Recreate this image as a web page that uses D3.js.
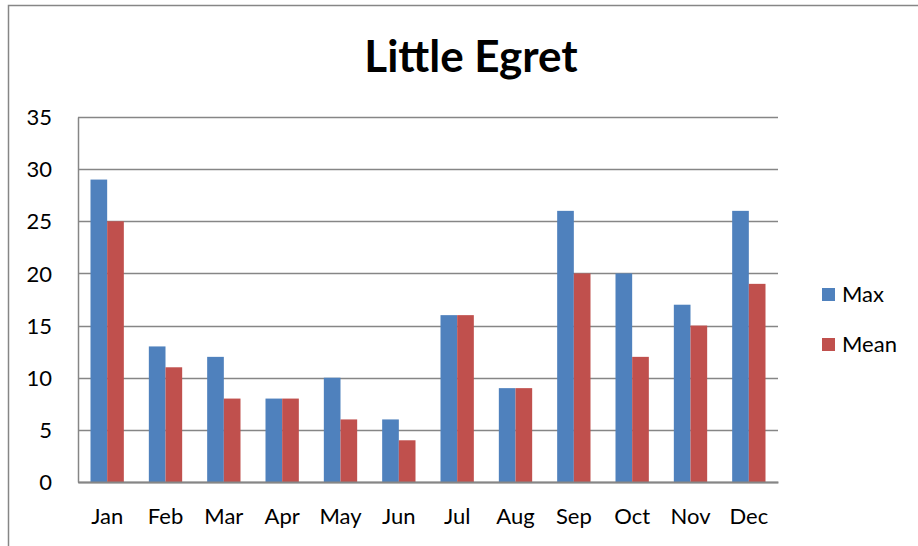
<!DOCTYPE html>
<html>
<head>
<meta charset="utf-8">
<script src="https://cdn.jsdelivr.net/npm/d3@7"></script>
<style>
  body { margin: 0; background: #fff; }
  text { font-family: Lato, "Noto Sans", sans-serif; fill: #000; }
</style>
</head>
<body>
<div id="chart"></div>
<script>
// data
var months = ["Jan", "Feb", "Mar", "Apr", "May", "Jun", "Jul", "Aug", "Sep", "Oct", "Nov", "Dec"];
var maxValues = [29, 13, 12, 8, 10, 6, 16, 9, 26, 20, 17, 26];
var meanValues = [25, 11, 8, 8, 6, 4, 16, 9, 20, 12, 15, 19];
var seriesNames = ["Max", "Mean"];
var yTicks = [0, 5, 10, 15, 20, 25, 30, 35];

var colors = { Max: "#4F81BD", Mean: "#C0504D" };

var W = 918, H = 546;
var margin = { top: 117, left: 78 },
    width = 700,
    height = 365;

var svg = d3.select("#chart").append("svg")
    .attr("width", W)
    .attr("height", H);

// outer chart border (runs off the right and bottom)
svg.append("rect")
    .attr("x", 8.5).attr("y", 5.5)
    .attr("width", W + 10).attr("height", H + 10)
    .attr("fill", "none")
    .attr("stroke", "#868686")
    .attr("stroke-width", 1.5);

svg.append("text")
    .attr("x", 471).attr("y", 72)
    .attr("text-anchor", "middle")
    .style("font-size", "44px")
    .style("font-weight", "bold")
    .text("Little Egret");

var g = svg.append("g")
    .attr("transform", "translate(" + margin.left + "," + margin.top + ")");

var x0 = d3.scaleBand().domain(months).range([0, width]).paddingInner(0).paddingOuter(0);
// gap width 150% -> each bar is 1/3.5 of the band
var x1 = d3.scaleBand().domain(seriesNames)
    .range([x0.bandwidth() * 0.75 / 3.5, x0.bandwidth() * 2.75 / 3.5]);
var y = d3.scaleLinear().domain([0, 35]).range([height, 0]);

// gridlines
g.selectAll(".grid")
    .data(yTicks)
    .enter().append("line")
    .attr("x1", 0).attr("x2", width)
    .attr("y1", function (d) { return Math.round(y(d)) + 0.5; })
    .attr("y2", function (d) { return Math.round(y(d)) + 0.5; })
    .attr("stroke", "#868686")
    .attr("stroke-width", 1.5);

var rows = months.map(function (m, i) {
    return { month: m, Max: maxValues[i], Mean: meanValues[i] };
});

var groups = g.selectAll(".grp")
    .data(rows)
    .enter().append("g")
    .attr("transform", function (d) { return "translate(" + x0(d.month) + ",0)"; });

groups.selectAll("rect")
    .data(function (d) { return seriesNames.map(function (s) { return { key: s, value: d[s] }; }); })
    .enter().append("rect")
    .attr("x", function (d) { return x1(d.key); })
    .attr("width", x1.bandwidth())
    .attr("y", function (d) { return y(d.value); })
    .attr("height", function (d) { return height - y(d.value); })
    .attr("fill", function (d) { return colors[d.key]; });

// y axis
var yAxis = g.append("g")
    .call(d3.axisLeft(y).tickValues(yTicks).tickSize(0).tickPadding(26));
yAxis.select(".domain").attr("stroke", "#868686").attr("stroke-width", 1.5);
yAxis.selectAll("text").style("font-size", "22px").attr("dy", "0.35em");

// x axis
var xAxis = g.append("g")
    .attr("transform", "translate(0," + height + ")")
    .call(d3.axisBottom(x0).tickSize(0).tickPadding(26));
xAxis.select(".domain").attr("stroke", "#868686").attr("stroke-width", 2);
xAxis.selectAll("text").style("font-size", "22px");

// legend
var legend = svg.selectAll(".legend")
    .data(seriesNames)
    .enter().append("g")
    .attr("transform", function (d, i) { return "translate(822," + (288 + i * 50) + ")"; });
legend.append("rect")
    .attr("width", 13).attr("height", 13)
    .attr("fill", function (d) { return colors[d]; });
legend.append("text")
    .attr("x", 20).attr("y", 14)
    .style("font-size", "22px")
    .text(function (d) { return d; });
</script>
</body>
</html>
